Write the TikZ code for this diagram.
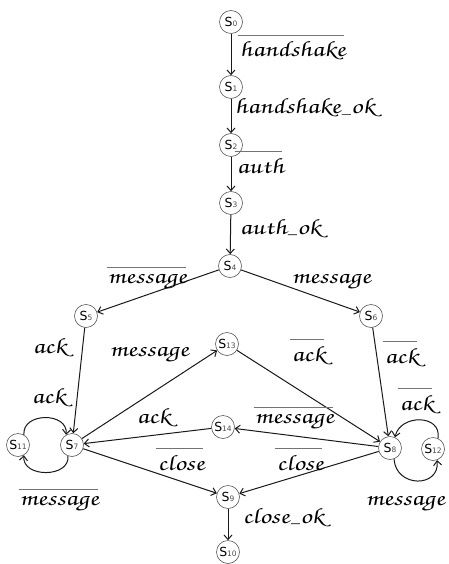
\documentclass[tikz,border=0pt]{standalone}
\usepackage[T1,TU]{fontenc}
\usepackage{fontspec}
\usepackage{graphicx}
\newfontfamily\nodefont{DejaVu Sans}
\usetikzlibrary{arrows.meta}
\newcommand\st[1]{S{\fontsize{7.5}{8}\selectfont\color{black!70}#1}}
\newcommand\us{\kern0.5pt\rule[-1pt]{7pt}{0.7pt}\kern0.5pt}
\newcommand\cw[1]{\scalebox{1.3}[1]{\fontencoding{T1}\fontfamily{pzc}\fontseries{m}\fontshape{it}\fontsize{22}{26}\selectfont #1}}
\begin{document}
\begin{tikzpicture}[x=1pt,y=-1pt,
  state/.style={circle,draw=black!65,line width=0.6pt,minimum size=23pt,inner sep=0pt,
    font=\nodefont\fontsize{12.5}{14}\selectfont},
  edge/.style={draw=black!90,line width=1pt,-{Straight Barb[length=4.5pt,width=8pt]}},
  lab/.style={inner sep=0pt,anchor=base west,xslant=-0.15},
  ovl/.style={draw=black!55,line width=0.7pt}]
\useasboundingbox (0,0) rectangle (448,564);
% states
\node[state] (s0) at (231,22) {\st{0}};
\node[state] (s1) at (231,87) {\st{1}};
\node[state] (s2) at (231,145) {\st{2}};
\node[state] (s3) at (231,203) {\st{3}};
\node[state] (s4) at (230,266) {\st{4}};
\node[state] (s5) at (86,316) {\st{5}};
\node[state] (s6) at (371,316) {\st{6}};
\node[state] (s13) at (227,344) {\st{13}};
\node[state] (s14) at (223,427) {\st{14}};
\node[state] (s11) at (18,445) {\st{11}};
\node[state] (s7) at (72,445) {\st{7}};
\node[state] (s8) at (390,448) {\st{8}};
\node[state] (s12) at (433,449) {\st{12}};
\node[state] (s9) at (228,497) {\st{9}};
\node[state] (s10) at (228,552) {\st{10}};
% edges
\draw[edge] (s0) -- (s1);
\draw[edge] (s1) -- (s2);
\draw[edge] (s2) -- (s3);
\draw[edge] (s3) -- (s4);
\draw[edge] (s4) -- (s5);
\draw[edge] (s4) -- (s6);
\draw[edge] (s5) -- (s7);
\draw[edge] (s6) -- (s8);
\draw[edge] (s7) -- (s13);
\draw[edge] (s13) -- (s8);
\draw[edge] (s8) -- (s14);
\draw[edge] (s14) -- (s7);
\draw[edge] (s7) -- (s9);
\draw[edge] (s8) -- (s9);
\draw[edge] (s9) -- (s10);
\draw[edge] (s11.60) .. controls (22,412) and (68,412) .. (s7.120);
\draw[edge] (s7.250) .. controls (70,478) and (22,478) .. (s11.300);
\draw[edge] (s12.65) .. controls (442,414) and (400,414) .. (s8.65);
\draw[edge] (s8.290) .. controls (396,488) and (440,488) .. (s12.290);
% labels
\node[lab] (l01) at (240,57) {\cw{handshake}};
\node[lab] (l02) at (235,114) {\cw{handshake\us ok}};
\node[lab] (l03) at (237,173) {\cw{auth}};
\node[lab] (l04) at (240,234) {\cw{auth\us ok}};
\node[lab] (l05) at (108,283) {\cw{message}};
\node[lab] (l06) at (292,283) {\cw{message}};
\node[lab] (l07) at (33,353) {\cw{ack}};
\node[lab] (l08) at (110,356) {\cw{message}};
\node[lab] (l09) at (292,361) {\cw{ack}};
\node[lab] (l10) at (385,363) {\cw{ack}};
\node[lab] (l11) at (32,403) {\cw{ack}};
\node[lab] (l12) at (137,423) {\cw{ack}};
\node[lab] (l13) at (255,423) {\cw{message}};
\node[lab] (l14) at (400,410) {\cw{ack}};
\node[lab] (l15) at (158,470) {\cw{close}};
\node[lab] (l16) at (277,470) {\cw{close}};
\node[lab] (l17) at (20,505) {\cw{message}};
\node[lab] (l18) at (366,505) {\cw{message}};
\node[lab] (l19) at (243,523) {\cw{close\us ok}};
% overlines
\foreach \l in {l01,l03,l05,l09,l10,l13,l14,l15,l16,l17}
  \draw[ovl] ([yshift=6pt]\l.north west) -- ([yshift=6pt]\l.north east);
\end{tikzpicture}
\end{document}
